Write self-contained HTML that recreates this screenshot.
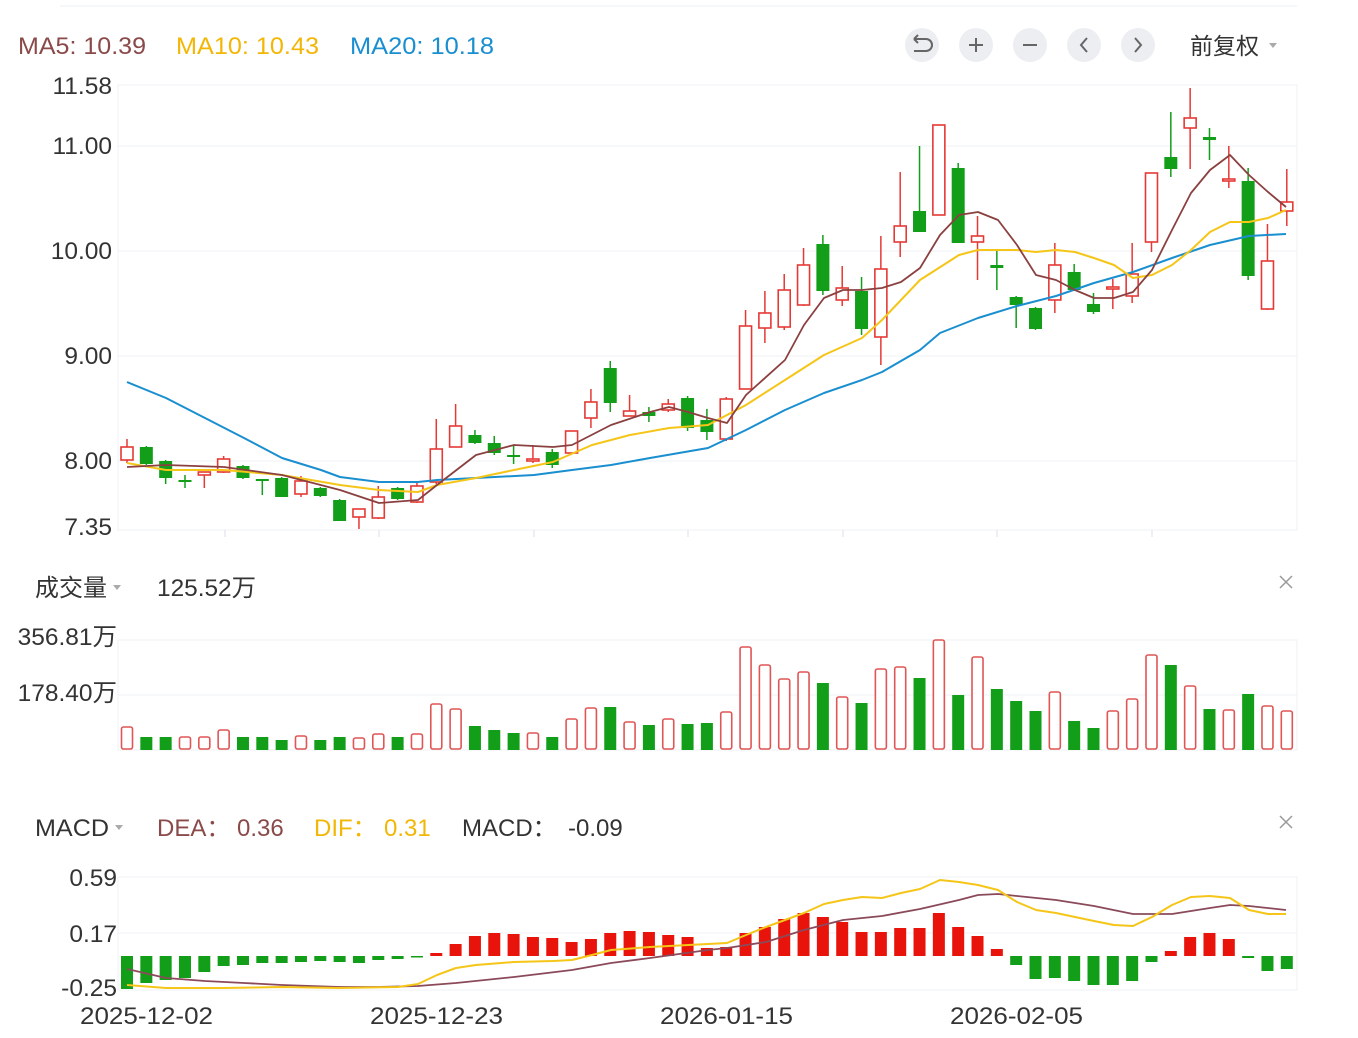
<!DOCTYPE html>
<html><head><meta charset="utf-8"><style>
body{margin:0;background:#fff;width:1358px;height:1038px;overflow:hidden;font-family:"Liberation Sans","Noto Sans CJK SC",sans-serif}
svg{position:absolute;left:0;top:0}
</style></head><body>
<svg id="s" width="1358" height="1038" xmlns="http://www.w3.org/2000/svg" font-family="Liberation Sans, Noto Sans CJK SC, sans-serif">
<rect width="1358" height="1038" fill="#fff"/>
<line x1="60" y1="6" x2="1297" y2="6" stroke="#eceff3"/>
<g font-size="24.5">
<text x="18" y="54" fill="#8b4a4a" textLength="128" lengthAdjust="spacingAndGlyphs">MA5: 10.39</text>
<text x="176" y="54" fill="#f2b705" textLength="143" lengthAdjust="spacingAndGlyphs">MA10: 10.43</text>
<text x="350" y="54" fill="#1a8fd0" textLength="144" lengthAdjust="spacingAndGlyphs">MA20: 10.18</text>
</g>
<g fill="#eceef1">
<circle cx="922" cy="45" r="17"/><circle cx="976" cy="45" r="17"/><circle cx="1030" cy="45" r="17"/><circle cx="1084" cy="45" r="17"/><circle cx="1138" cy="45" r="17"/>
</g>
<g stroke="#666" stroke-width="2" fill="none">
<path d="M914 39 h12 a6 6 0 0 1 0 12 h-12 M914 39 l4 -4 M914 39 l4 4"/>
<path d="M969 45 h14 M976 38 v14"/>
<path d="M1023 45 h14"/>
<path d="M1087 38 l-6 7 l6 7"/>
<path d="M1135 38 l6 7 l-6 7"/>
</g>
<text x="1190" y="54" font-size="23" fill="#333">前复权</text>
<path d="M1269 43 l8 0 l-4 5z" fill="#aaa"/>
<g id="grid" stroke="#edf0f4" fill="none"></g>
<g font-size="24.5" fill="#333" id="lbl"></g>
<g font-size="24">
<text x="35" y="596" fill="#333">成交量</text>
<text x="157" y="596" fill="#333" textLength="99" lengthAdjust="spacingAndGlyphs">125.52万</text>
<text x="35" y="836" fill="#333" textLength="74" lengthAdjust="spacingAndGlyphs">MACD</text>
<text x="157" y="836" fill="#8b4a4a">DEA：</text><text x="237" y="836" fill="#8b4a4a">0.36</text>
<text x="314" y="836" fill="#f2b705">DIF：</text><text x="384" y="836" fill="#f2b705">0.31</text>
<text x="462" y="836" fill="#333">MACD：</text><text x="568" y="836" fill="#333">-0.09</text>
</g>
<path d="M113 585 l8 0 l-4 5z M115 825 l8 0 l-4 5z" fill="#aaa"/>
<g stroke="#999" stroke-width="1.5"><path d="M1280 576 l12 12 M1292 576 l-12 12 M1280 816 l12 12 M1292 816 l-12 12"/></g>
<g id="c"></g>
</svg>
<script>
const NS="http://www.w3.org/2000/svg",c=document.getElementById('c'),g=document.getElementById('grid'),L=document.getElementById('lbl');
function el(p,t,a){const e=document.createElementNS(NS,t);for(const k in a)e.setAttribute(k,a[k]);p.appendChild(e);return e}
function tx(p,x,y,s,a){const e=el(p,'text',Object.assign({x:x,y:y},a||{}));e.textContent=s;return e}
[[85,530],[640,750],[877,990]].forEach(b=>{el(g,'rect',{x:118,y:b[0],width:1179,height:b[1]-b[0]})});
[146,251,356,461].forEach(y=>el(g,'line',{x1:118,x2:1297,y1:y,y2:y}));
el(g,'line',{x1:118,x2:1297,y1:695,y2:695});el(g,'line',{x1:118,x2:1297,y1:933,y2:933});
[225,379,534,688,843,997,1152].forEach(x=>el(g,'line',{x1:x,x2:x,y1:530,y2:537,stroke:'#dde'}));
[["11.58",94],["11.00",154],["10.00",259],["9.00",364],["8.00",469],["7.35",535]].forEach(a=>tx(L,112,a[1],a[0],{'text-anchor':'end'}));
tx(L,117,645,"356.81万",{'text-anchor':'end'});tx(L,117,701,"178.40万",{'text-anchor':'end'});
tx(L,117,886,"0.59",{'text-anchor':'end'});tx(L,117,942,"0.17",{'text-anchor':'end'});tx(L,117,996,"-0.25",{'text-anchor':'end'});
[["2025-12-02",80],["2025-12-23",370],["2026-01-15",660],["2026-02-05",950]].forEach(a=>tx(L,a[1],1024,a[0],{textLength:133,lengthAdjust:'spacingAndGlyphs'}));
const X=i=>127+i*19.33;
const R='#e53935',G='#139e1a';
const K=[['r',447,460,439,463],['g',447,464,446,465],['g',461,478,460,484],['g',480,482,475,488],['r',472,475,472,488],['r',459,472,456,473],['g',466,478,465,479],['g',479,481,479,495],['g',478,497,477,497],['r',481,494,476,497],['g',488,496,487,497],['g',500,521,499,521],['r',509,517,509,529],['r',497,518,486,519],['g',488,499,487,500],['r',486,502,483,503],['r',449,482,419,484],['r',426,447,404,447],['g',435,443,430,444],['g',443,453,436,455],['g',455,457,446,464],['r',459,461,445,463],['g',452,465,449,468],['r',431,453,431,454],['r',402,418,389,428],['g',368,403,361,412],['r',411,416,395,416],['g',412,416,407,422],['r',404,410,399,412],['g',398,428,396,431],['g',420,432,409,440],['r',399,439,397,441],['r',326,389,310,389],['r',313,328,291,343],['r',290,327,274,330],['r',265,305,248,306],['g',244,291,235,295],['r',288,300,266,306],['g',291,329,277,335],['r',269,337,236,365],['r',226,242,172,257],['g',211,232,146,232],['r',125,215,125,215],['g',168,243,163,243],['r',236,242,216,280],['g',265,268,251,290],['g',297,305,296,328],['g',308,329,307,330],['r',265,300,243,313],['g',272,290,264,291],['g',304,312,293,314],['r',287,289,279,309],['r',274,296,243,303],['r',173,242,173,252],['g',157,169,112,177],['r',118,128,88,169],['g',137,140,128,160],['r',179,181,146,188],['g',181,276,168,280],['r',261,309,224,310],['r',202,211,169,226]];
function poly(pts,col,w){el(c,'polyline',{points:pts.map(p=>p.join(',')).join(' '),fill:'none',stroke:col,'stroke-width':w||2,'stroke-linejoin':'round'})}
K.forEach((k,i)=>{const x=X(i),col=k[0]=='r'?R:G;
el(c,'line',{x1:x,x2:x,y1:k[3],y2:k[4],stroke:col,'stroke-width':1.5});
const h=Math.max(k[2]-k[1],2);
if(k[0]=='r')el(c,'rect',{x:x-6,y:k[1],width:12,height:h,fill:'#fff',stroke:col,'stroke-width':1.6});
else el(c,'rect',{x:x-6.5,y:k[1],width:13,height:h,fill:col});});
poly([[127,382],[166,398],[205,418],[244,438],[282,458],[321,470],[340,477],[379,482],[418,482],[437,480],[476,478],[534,475],[572,470],[611,465],[650,458],[708,448],[746,430],[785,410],[824,393],[862,380],[882,372],[920,350],[940,333],[978,318],[1017,306],[1056,296],[1094,283],[1133,272],[1172,258],[1210,245],[1249,236],[1286,234]],'#1a8fd0');
poly([[127,463],[166,470],[224,470],[282,475],[340,485],[379,490],[418,492],[437,485],[476,478],[514,470],[553,462],[592,445],[630,435],[669,428],[708,425],[727,415],[746,405],[785,380],[824,355],[862,338],[882,320],[920,280],[959,255],[978,250],[1017,250],[1036,252],[1056,250],[1075,252],[1094,258],[1114,265],[1133,278],[1152,275],[1172,265],[1191,250],[1210,232],[1230,222],[1249,222],[1268,218],[1286,210]],'#f5c518');
poly([[127,467],[166,465],[224,467],[282,475],[340,490],[379,503],[418,500],[437,485],[476,455],[514,445],[553,447],[572,445],[611,425],[650,412],[669,407],[688,412],[708,418],[727,423],[746,395],[785,360],[804,325],[824,298],[843,290],[862,290],[882,288],[901,282],[920,268],[940,235],[959,215],[978,212],[998,220],[1017,245],[1036,275],[1056,280],[1075,290],[1094,298],[1114,298],[1133,292],[1152,270],[1172,230],[1191,193],[1210,170],[1230,155],[1249,175],[1268,192],[1286,207]],'#8b4040',1.8);
const V="r727 g737 g737 r737 r737 r730 g737 g737 g740 r736 g740 g737 r738 r734 g737 r734 r704 r709 g726 g730 g733 r733 g737 r719 r708 g707 r722 g725 r719 g724 g723 r712 r647 r665 r679 r672 g683 r697 g703 r669 r667 g678 r640 g695 r657 g689 g701 g711 r692 g721 g728 r711 r699 r655 g665 r686 g709 r710 g694 r706 r711".split(' ');
V.forEach((v,i)=>{const x=X(i),t=+v.slice(1);
if(v[0]=='r')el(c,'rect',{x:x-5.5,y:t,width:11,height:749-t,rx:2,fill:'#fff',stroke:'#e05555','stroke-width':1.6});
else el(c,'rect',{x:x-6,y:t,width:12,height:750-t,fill:G});});
const M=[989,983,980,978,972,966,965,963,963,962,961,962,963,960,959,956,953,944,936,933,934,937,938,942,939,933,931,932,935,937,948,947,933,927,919,913,917,922,932,932,928,928,913,927,936,949,965,979,978,981,985,985,981,962,951,937,933,939,958,971,969];
const Z=956;
M.forEach((m,i)=>{const x=X(i);const y=Math.min(m,Z),h=Math.max(Math.abs(m-Z),1.5);
el(c,'rect',{x:x-6,y:y,width:12,height:h,fill:m<Z?'#e8140c':G});});
poly([[127,969],[166,978],[205,981],[244,983],[282,985],[340,987],[379,987],[418,986],[456,983],[514,977],[572,970],[611,963],[650,958],[708,950],[727,948],[766,942],[804,930],[843,920],[882,916],[920,909],[959,900],[978,895],[998,894],[1017,896],[1056,900],[1094,906],[1133,914],[1172,914],[1210,908],[1230,905],[1249,906],[1286,910]],'#8b4a5a',1.8);
poly([[127,985],[166,988],[224,988],[282,987],[340,988],[398,987],[418,984],[437,975],[456,968],[476,965],[514,962],[553,961],[572,960],[592,955],[611,950],[650,947],[708,944],[727,943],[746,935],[766,927],[785,920],[804,913],[824,904],[843,900],[862,897],[882,898],[901,893],[920,889],[940,880],[959,882],[978,885],[998,890],[1017,902],[1036,910],[1056,913],[1075,917],[1094,921],[1114,925],[1133,926],[1152,917],[1172,905],[1191,897],[1210,896],[1230,898],[1249,910],[1268,914],[1286,914]],'#f5c518',2);
</script>
</body></html>
